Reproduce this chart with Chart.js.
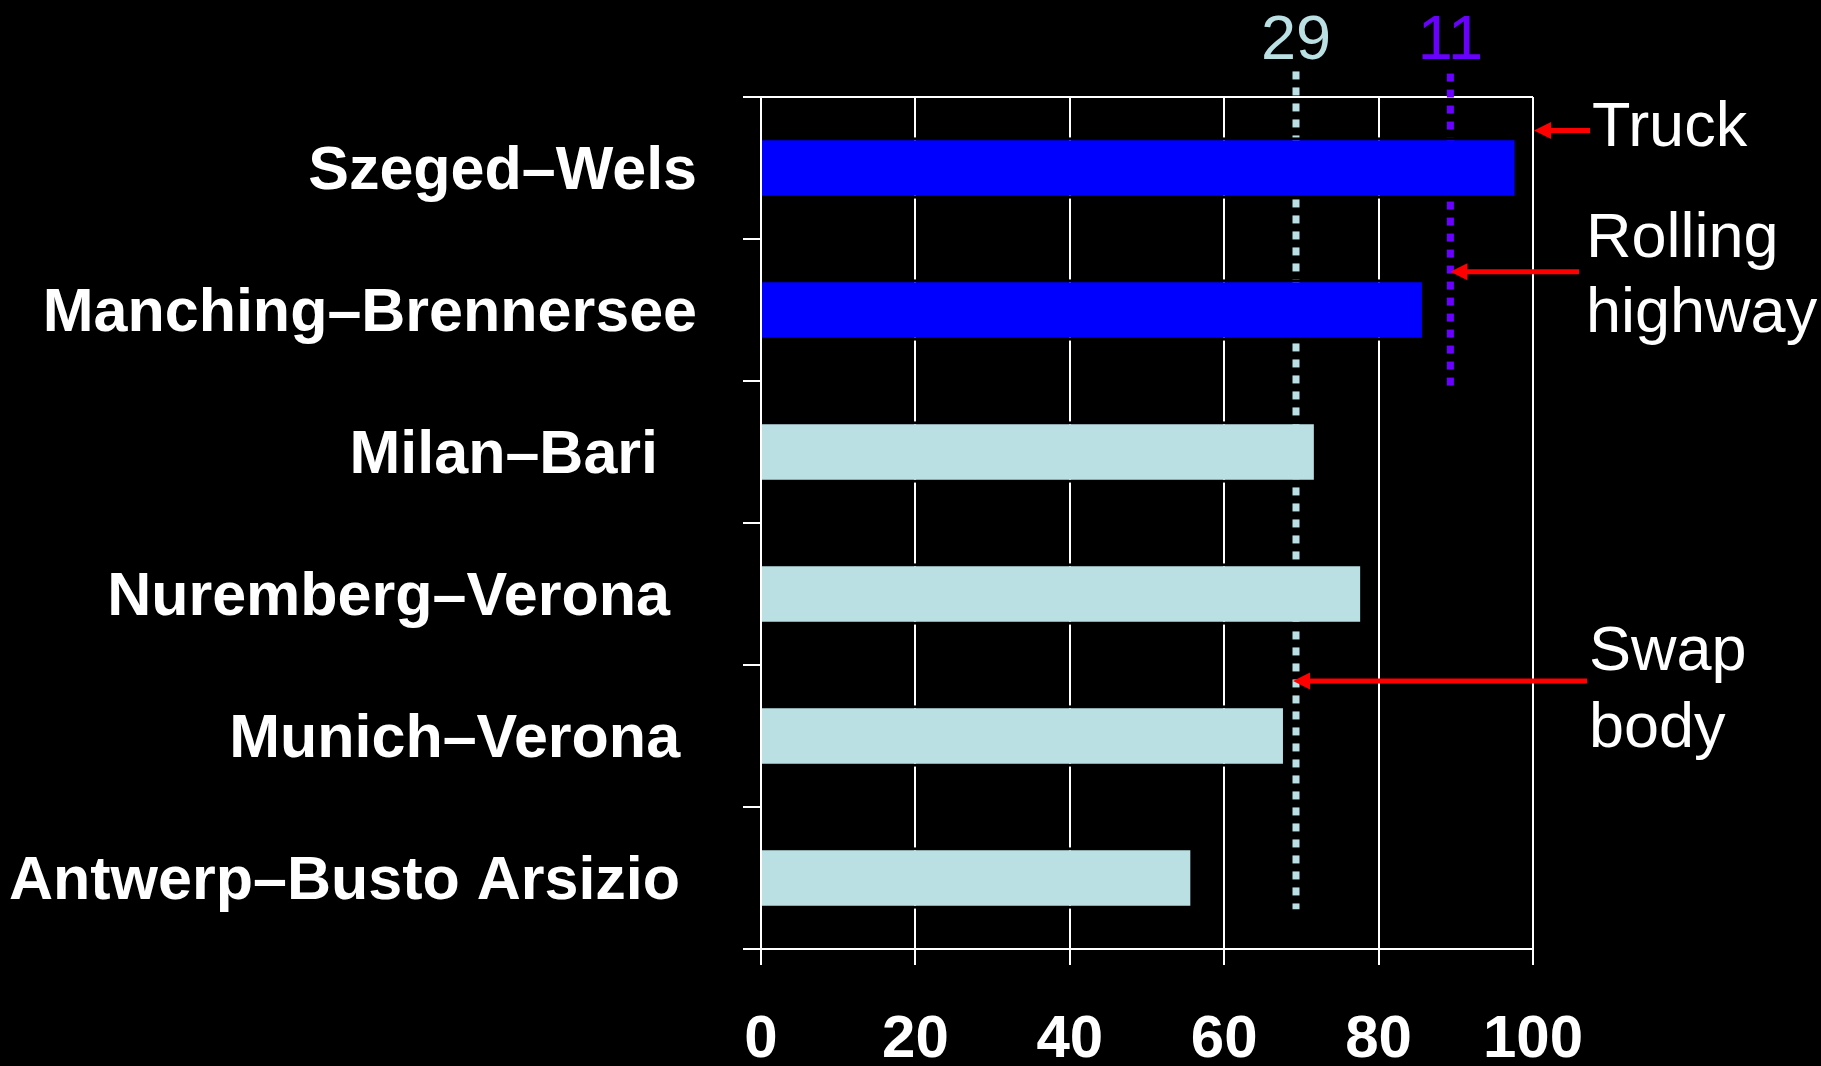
<!DOCTYPE html>
<html>
<head>
<meta charset="utf-8">
<script src="https://cdn.jsdelivr.net/npm/chart.js@4.4.1/dist/chart.umd.min.js"></script>
<style>
html,body{margin:0;padding:0;background:#000;overflow:hidden}
#wrap{width:1821px;height:1066px;position:relative}
canvas{background:#000;display:block}
</style>
</head>
<body>
<div id="wrap"><canvas id="c" width="1821" height="1066"></canvas></div>
<script>
// ---- data ----
const routes = ['Szeged–Wels', 'Manching–Brennersee', 'Milan–Bari  \u200A', 'Nuremberg–Verona \u2006', 'Munich–Verona ', 'Antwerp–Busto Arsizio '];
const modes = ['Rolling highway', 'Rolling highway', 'Swap body', 'Swap body', 'Swap body', 'Swap body'];
const values = [98, 86, 72, 78, 68, 56];
const xTicks = [0, 20, 40, 60, 80, 100];
const truckLevel = 100;
const rollingHighwayLevel = 89.3;
const swapBodyLevel = 69.3;
const levelLabels = ['29', '11'];
const annotationLines = [['Truck'], ['Rolling', 'highway'], ['Swap', 'body']];

// ---- styles ----
const FONT = '"Liberation Sans", Arial, Helvetica, sans-serif';
const LIGHT = '#BAE0E3';
const BLUE = '#0000FF';
const PURPLE = '#6A00FF';
const RED = '#FF0000';
const modeColors = { 'Rolling highway': BLUE, 'Swap body': LIGHT };

function arrow(ctx, tailX, tipX, y) {
  const head = 17, half = 8.5;
  ctx.save();
  ctx.strokeStyle = RED;
  ctx.fillStyle = RED;
  ctx.lineWidth = 5;
  ctx.beginPath();
  ctx.moveTo(tailX, y);
  ctx.lineTo(tipX + head - 1, y);
  ctx.stroke();
  ctx.beginPath();
  ctx.moveTo(tipX, y);
  ctx.lineTo(tipX + head, y - half);
  ctx.lineTo(tipX + head, y + half);
  ctx.closePath();
  ctx.fill();
  ctx.restore();
}

const annotations = {
  id: 'annotations',
  afterDatasetsDraw(chart) {
    const { ctx } = chart;
    const x = chart.scales.x;
    const yl = chart.scales.yl;
    ctx.save();
    ctx.font = '63px ' + FONT;
    ctx.textBaseline = 'alphabetic';
    ctx.textAlign = 'center';
    ctx.fillStyle = LIGHT;
    ctx.fillText(levelLabels[0], x.getPixelForValue(swapBodyLevel), 59);
    ctx.fillStyle = PURPLE;
    ctx.fillText(levelLabels[1], x.getPixelForValue(rollingHighwayLevel), 59);

    arrow(ctx, 1590, x.getPixelForValue(truckLevel) + 1, yl.getPixelForValue(-0.264));
    arrow(ctx, 1579, x.getPixelForValue(rollingHighwayLevel), yl.getPixelForValue(0.73));
    arrow(ctx, 1587, x.getPixelForValue(swapBodyLevel) - 3, yl.getPixelForValue(3.613));

    ctx.fillStyle = '#FFFFFF';
    ctx.textAlign = 'left';
    ctx.fillText(annotationLines[0][0], 1592, 146);
    ctx.fillText(annotationLines[1][0], 1586, 257);
    ctx.fillText(annotationLines[1][1], 1586, 332);
    ctx.fillText(annotationLines[2][0], 1589, 670);
    ctx.fillText(annotationLines[2][1], 1589, 747);
    ctx.restore();
  }
};

new Chart(document.getElementById('c'), {
  type: 'bar',
  data: {
    labels: routes,
    datasets: [
      {
        type: 'bar',
        label: 'Share',
        data: values,
        backgroundColor: modes.map(m => modeColors[m]),
        borderColor: '#000000',
        borderWidth: 3,
        borderSkipped: 'start',
        grouped: false,
        barPercentage: 0.432,
        categoryPercentage: 1,
        xAxisID: 'x',
        yAxisID: 'y',
        order: 0
      },
      {
        type: 'line',
        label: 'Swap body',
        indexAxis: 'y',
        data: [{ x: swapBodyLevel, y: -0.68 }, { x: swapBodyLevel, y: 5.22 }],
        xAxisID: 'x',
        yAxisID: 'yl',
        borderColor: LIGHT,
        borderWidth: 7,
        borderDash: [8, 8],
        borderCapStyle: 'butt',
        pointRadius: 0,
        fill: false,
        clip: false,
        order: 1
      },
      {
        type: 'line',
        label: 'Rolling highway',
        indexAxis: 'y',
        data: [{ x: rollingHighwayLevel, y: -0.665 }, { x: rollingHighwayLevel, y: 1.54 }],
        xAxisID: 'x',
        yAxisID: 'yl',
        borderColor: PURPLE,
        borderWidth: 7,
        borderDash: [8, 8],
        borderCapStyle: 'butt',
        pointRadius: 0,
        fill: false,
        clip: false,
        order: 1
      }
    ]
  },
  options: {
    indexAxis: 'y',
    responsive: false,
    animation: false,
    devicePixelRatio: 1,
    layout: { padding: { top: 97, right: 288, bottom: 0, left: 0 } },
    plugins: { legend: { display: false }, tooltip: { enabled: false } },
    scales: {
      x: {
        type: 'linear',
        position: 'bottom',
        min: 0,
        max: 100,
        offset: false,
        afterBuildTicks(s) { s.ticks = xTicks.map(v => ({ value: v })); },
        grid: { color: '#FFFFFF', lineWidth: 2, tickLength: 16, drawOnChartArea: true },
        border: { display: true, color: '#FFFFFF', width: 2 },
        ticks: { color: '#FFFFFF', font: { family: FONT, size: 60, weight: 'bold' }, padding: 39, maxRotation: 0, autoSkip: false },
        afterFit(s) { s.height = 117; }
      },
      y: {
        type: 'category',
        position: 'left',
        offset: true,
        grid: {
          offset: true,
          drawOnChartArea: true,
          color: (c) => (c.index === 0 ? '#FFFFFF' : 'rgba(0,0,0,0)'),
          tickColor: '#FFFFFF',
          lineWidth: 2,
          tickWidth: 2,
          tickLength: 18
        },
        border: { display: true, color: '#FFFFFF', width: 2 },
        ticks: { color: '#FFFFFF', font: { family: FONT, size: 61, weight: 'bold' }, padding: 46, labelOffset: 4, autoSkip: false },
        afterFit(s) { s.width = 761; }
      },
      yl: {
        type: 'linear',
        axis: 'y',
        display: false,
        offset: false,
        grid: { offset: false },
        min: -0.5,
        max: 5.5,
        reverse: true
      }
    }
  },
  plugins: [annotations]
});
</script>
</body>
</html>
